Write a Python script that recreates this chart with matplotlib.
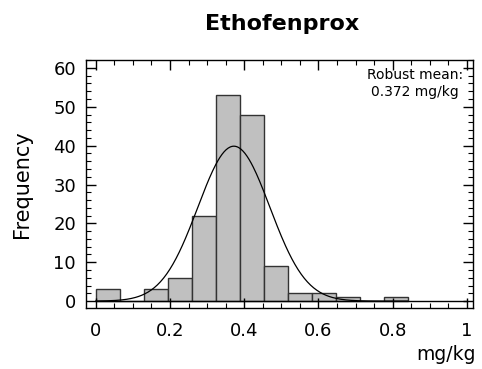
import numpy as np
import matplotlib.pyplot as plt
from matplotlib.ticker import MultipleLocator

# histogram of residue values (mg/kg)
binStart = 0.0
binEnd = 0.84
counts = [3, 0, 3, 6, 22, 53, 48, 9, 2, 2, 1, 0, 1]
robustMean = 0.372
fitSigma = 0.097
xTicks = [0, 0.2, 0.4, 0.6, 0.8, 1]
xTickLabels = ["0", "0.2", "0.4", "0.6", "0.8", "1"]
yTicks = [0, 10, 20, 30, 40, 50, 60]

nBins = len(counts)
edges = np.linspace(binStart, binEnd, nBins + 1)
width = edges[1] - edges[0]

fig = plt.figure(figsize=(4.82, 3.69), dpi=100)
ax = fig.add_axes([0.178, 0.165, 0.803, 0.672])

ax.bar(edges[:-1], counts, width=width, align='edge',
       color='#c0c0c0', edgecolor='#333333', linewidth=1.0)

# baseline at zero
ax.plot([0, 1], [0, 0], color='black', linewidth=1.0)

# gaussian fit scaled to the counts
total = np.sum(counts)
xs = np.linspace(binStart, binEnd, 300)
ys = total * width / (fitSigma * np.sqrt(2 * np.pi)) * np.exp(-0.5 * ((xs - robustMean) / fitSigma) ** 2)
ax.plot(xs, ys, color='black', linewidth=0.9)

ax.set_xlim(-0.027, 1.016)
ax.set_ylim(-1.8, 62)
ax.set_xticks(xTicks)
ax.set_xticklabels(xTickLabels)
ax.set_yticks(yTicks)
ax.xaxis.set_minor_locator(MultipleLocator(0.05))
ax.yaxis.set_minor_locator(MultipleLocator(2))
ax.tick_params(which='both', direction='in', top=True, right=True)
ax.tick_params(which='major', length=7, width=1, labelsize=13)
ax.tick_params(axis='x', which='major', pad=10)
ax.tick_params(axis='y', which='major', pad=7)
ax.tick_params(which='minor', length=3.5, width=0.8)
for s in ax.spines.values():
    s.set_linewidth(1.0)

ax.text(0.975, 0.97, "Robust mean:\n%.3f mg/kg" % robustMean, transform=ax.transAxes,
        ha='right', va='top', fontsize=10, linespacing=1.3, multialignment='center')

fig.text(0.585, 0.935, "Ethofenprox", ha='center', va='center', fontsize=16, fontweight='bold')
fig.text(0.045, 0.5, "Frequency", rotation=90, ha='center', va='center', fontsize=15)
fig.text(0.988, 0.04, "mg/kg", ha='right', va='center', fontsize=13.5)

plt.savefig('out.png', dpi=100)
